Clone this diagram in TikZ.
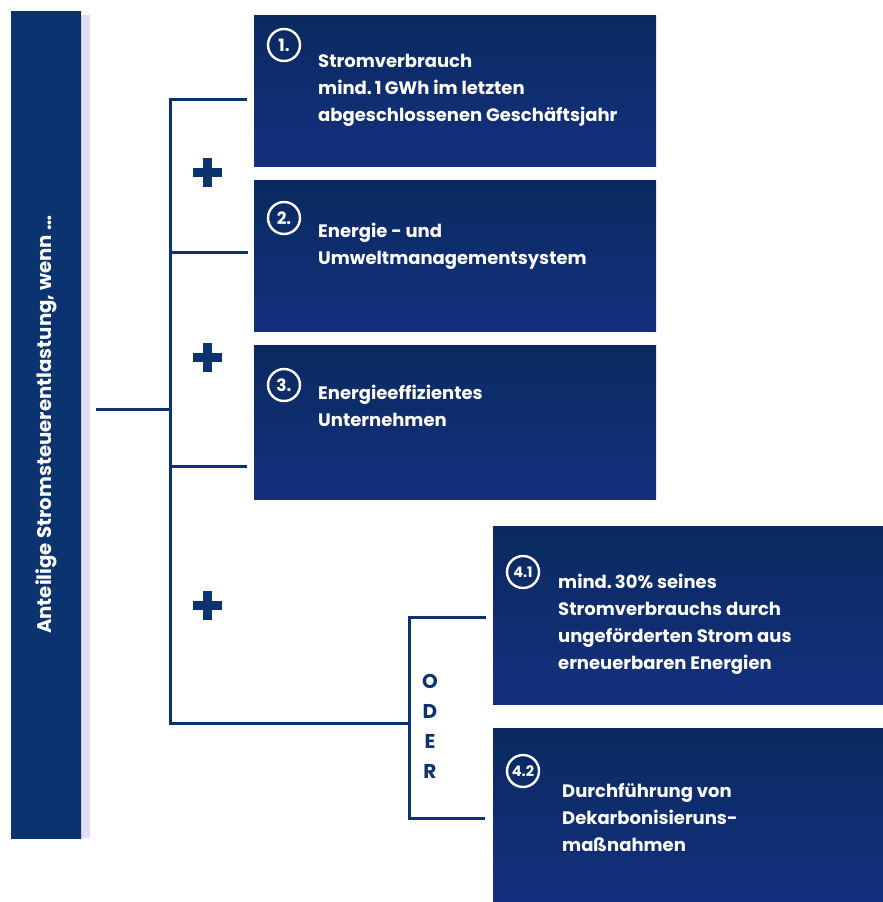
\documentclass[tikz,border=0pt]{standalone}
\usepackage{fontspec}
\setmainfont{Poppins}
\usetikzlibrary{positioning}
\definecolor{navy}{HTML}{0B3370}
\definecolor{boxtop}{HTML}{0A2A60}
\definecolor{boxbot}{HTML}{14307E}
\definecolor{lav}{HTML}{E1DFF5}
\tikzstyle{box} = [rectangle, top color=boxtop, bottom color=boxbot,
    anchor=north west, inner sep=0pt]
\tikzstyle{num} = [circle, draw=white, line width=2.4pt, minimum size=32pt,
    inner sep=0pt, text=white, font=\bfseries\fontsize{17}{17}\selectfont]
\tikzstyle{txt} = [text=white, align=left, anchor=north west, inner sep=0pt,
    font=\bfseries\fontsize{18}{27}\selectfont]
\tikzstyle{wire} = [draw=navy, line width=3pt]

\begin{document}
\begin{tikzpicture}[x=1pt,y=-1pt]
  \useasboundingbox (0,0) rectangle (883,902);

  % left bar
  \fill[lav] (81,15) rectangle (90,838);
  \node[box, fill=navy, top color=navy, bottom color=navy,
        minimum width=70pt, minimum height=827pt] (bar) at (11,11) {};
  \node[text=white, rotate=90, font=\bfseries\fontsize{19.7}{19.7}\selectfont]
        at (bar.center) {Anteilige Stromsteuerentlastung, wenn \dots};

  % boxes
  \node[box, minimum width=402pt, minimum height=151pt] (1) at (254,15) {};
  \node[box, minimum width=402pt, minimum height=151pt] (2) at (254,180) {};
  \node[box, minimum width=402pt, minimum height=154pt] (3) at (254,345) {};
  \node[box, minimum width=390pt, minimum height=178pt] (41) at (493,526) {};
  \node[box, minimum width=390pt, minimum height=174pt] (42) at (493,728) {};

  \node[num] (n1) at (284,45) {1.};
  \node[num] (n2) at (284,218) {2.};
  \node[num] (n3) at (284,385) {3.};
  \node[num, font=\bfseries\fontsize{14.5}{14.5}\selectfont] (n41) at (523,572) {4.1};
  \node[num, font=\bfseries\fontsize{14.5}{14.5}\selectfont] (n42) at (523,771) {4.2};

  \node[txt] (t1) at (318,54) {Stromverbrauch\\mind.\,1\,GWh im letzten\\abgeschlossenen Geschäftsjahr};
  \node[txt] (t2) at (318,223) {Energie - und\\Umweltmanagementsystem};
  \node[txt] (t3) at (318,385) {Energieeffizientes\\Unternehmen};
  \node[txt] (t41) at (558,574) {mind.\,30\% seines\\Stromverbrauchs durch\\ungeförderten Strom aus\\erneuerbaren Energien};
  \node[txt] (t42) at (562,783) {Durchführung von\\Dekarbonisieruns-\\maßnahmen};

  % brackets
  \coordinate (s) at (96,409);
  \coordinate (j) at (170,409);
  \coordinate (k) at (409,723);
  \coordinate (e1) at (247,99);
  \coordinate (e2) at (248,252);
  \coordinate (e3) at (247,466);
  \coordinate (e41) at (486,617);
  \coordinate (e42) at (485,818);

  \draw[wire] (s) -- (j);
  \draw[wire] (e1) -| (j) |- (k);
  \draw[wire] (e2) -- (e2 -| j);
  \draw[wire] (e3) -- (e3 -| j);
  \draw[wire] (e41) -| (k) |- (e42);

  % plus signs
  \foreach \y in {172,357,605}
    \draw[draw=navy, line width=9pt] (193,\y) -- (222,\y) (207.5,\y-14.5) -- (207.5,\y+14.5);

  \node[text=navy, align=center, font=\bfseries\fontsize{20}{30}\selectfont]
        (oder) at (430,726) {O\\D\\E\\R};
\end{tikzpicture}
\end{document}
